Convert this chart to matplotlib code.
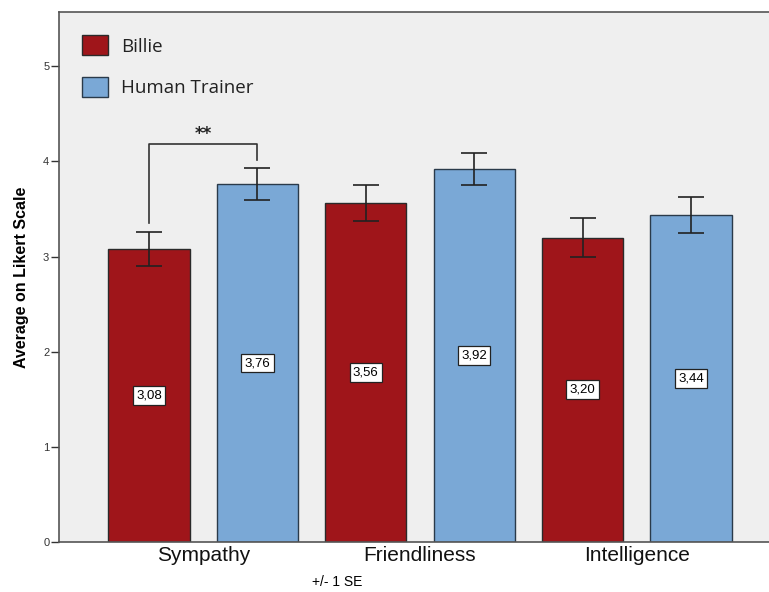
#Bar chart: Billie vs Human Trainer ratings on Likert scale
import matplotlib.pyplot as plt
import numpy as np

categories = ['Sympathy', 'Friendliness', 'Intelligence']
billie = [3.08, 3.56, 3.20]
human = [3.76, 3.92, 3.44]
billie_se = [0.18, 0.19, 0.20]
human_se = [0.17, 0.17, 0.19]

red = '#9F151A'
blue = '#7AA8D6'

fig = plt.figure(figsize=(7.69, 5.92), dpi=100)
ax = fig.add_axes([59/769, 50/592, 722/769, 530/592])
ax.set_facecolor('#EFEFEF')

xb = np.arange(len(categories)) * 2
xh = xb + 1
w = 0.75

#Bars with error bars
ax.bar(xb, billie, w, color=red, edgecolor='#2a2a2a', linewidth=1, label='Billie', zorder=2)
ax.bar(xh, human, w, color=blue, edgecolor='#2a3a4a', linewidth=1, label='Human Trainer', zorder=2)
ax.errorbar(xb, billie, yerr=billie_se, fmt='none', ecolor='#222222', elinewidth=1.2,
            capsize=9.7, capthick=1.2, zorder=3)
ax.errorbar(xh, human, yerr=human_se, fmt='none', ecolor='#222222', elinewidth=1.2,
            capsize=9.7, capthick=1.2, zorder=3)

#Value labels in the middle of the bars
for xs, vals in ((xb, billie), (xh, human)):
    for x, v in zip(xs, vals):
        ax.text(x, v / 2, ('%.2f' % v).replace('.', ','), ha='center', va='center',
                fontsize=9.5, family='Liberation Sans', zorder=4,
                bbox=dict(boxstyle='square,pad=0.25', fc='white', ec='#222222', lw=0.9))

#Significance bracket
ax.plot([xb[0], xb[0], xh[0], xh[0]], [3.35, 4.18, 4.18, 4.01], color='#333333', lw=1.2, zorder=3)
ax.text((xb[0] + xh[0]) / 2, 4.19, '**', ha='center', va='bottom', fontsize=12,
        fontweight='bold', color='#222222')

ax.set_xlim(-0.83, 5.83)
ax.set_ylim(0, 5.57)
ax.set_yticks([0, 1, 2, 3, 4, 5])
ax.set_yticklabels(['0', '1', '2', '3', '4', '5'], fontsize=8, color='#333333', family='Liberation Sans')
ax.set_xticks((xb + xh) / 2)
ax.set_xticklabels(categories, fontsize=15, family='Liberation Sans', color='#111111')
ax.tick_params(axis='x', length=0, pad=3)
ax.tick_params(axis='y', length=6, width=1, color='#333333', pad=1)
for s in ax.spines.values():
    s.set_color('#555555')
    s.set_linewidth(1.2)

ax.set_ylabel('Average on Likert Scale', fontsize=11.5, fontweight='bold',
              family='Liberation Sans', labelpad=10)

leg = ax.legend(loc='upper left', bbox_to_anchor=(23/722, 1 - 23/530), frameon=False,
                borderaxespad=0, borderpad=0, handlelength=1.4, handleheight=1.3,
                handletextpad=0.7, labelspacing=1.12,
                prop={'family': 'Open Sans', 'size': 13.5})
for t in leg.get_texts():
    t.set_color('#222222')

fig.text(312/769, 1 - 582/592, '+/- 1 SE', fontsize=10, va='center', family='Liberation Sans')

fig.savefig('out.png', dpi=100)
